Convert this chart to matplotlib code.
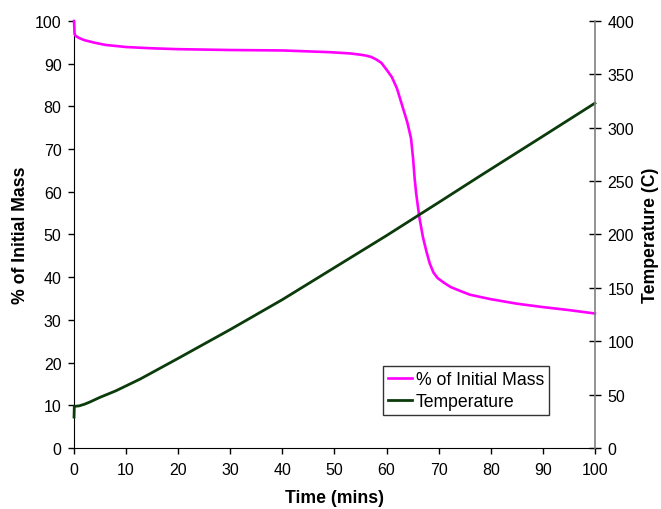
import matplotlib
matplotlib.use("Agg")
import matplotlib.pyplot as plt

plt.rcParams['font.family'] = ['Liberation Sans', 'DejaVu Sans']

# Mass-loss curve (% of initial mass vs time in minutes)
mass_time = [0, 0.1, 0.3, 1, 2, 4, 6, 10, 15, 20, 30, 40, 49, 53, 55, 56,
             57, 58, 59, 60, 61, 62, 63, 64, 64.7, 65.1, 65.4, 65.7, 66.3,
             67, 67.7, 68.3, 69, 69.8, 70.9, 72.3, 74.1, 76, 79.8, 85, 90,
             95, 100]
mass_pct = [100, 97.0, 96.5, 96.0, 95.5, 94.9, 94.4, 93.9, 93.6, 93.4, 93.2,
            93.1, 92.7, 92.4, 92.1, 91.9, 91.6, 91.0, 90.2, 88.6, 86.9, 84.2,
            80.2, 76.2, 72.5, 67.7, 63.0, 59.5, 54.0, 49.3, 45.8, 43.2, 41.1,
            39.8, 38.8, 37.7, 36.8, 35.9, 34.9, 33.8, 33.0, 32.3, 31.5]

# Furnace temperature (C vs time in minutes)
temp_time = [0, 0.05, 1, 2, 3, 5, 8, 12.7, 20, 30, 40, 49, 60, 70, 78, 90,
             100]
temp_c = [29, 39, 39.5, 41, 43, 47.5, 53.5, 64.6, 84, 111, 139, 166, 199,
          230, 255, 292, 323]

x_ticks = list(range(0, 101, 10))
mass_ticks = list(range(0, 101, 10))
temp_ticks = list(range(0, 401, 50))

fig = plt.figure(figsize=(6.61, 5.10), dpi=100)
ax = fig.add_axes([0.112, 0.1196, 0.788, 0.8373])
ax2 = ax.twinx()

l1, = ax.plot(mass_time, mass_pct, color='#FF00FF', lw=1.9,
              label='% of Initial Mass', clip_on=False, zorder=5)
l2, = ax2.plot(temp_time, temp_c, color='#0B3B0B', lw=2.0,
               label='Temperature', clip_on=False)

ax.set_xlim(0, 100)
ax.set_ylim(0, 100)
ax2.set_ylim(0, 400)
ax.set_xticks(x_ticks)
ax.set_yticks(mass_ticks)
ax2.set_yticks(temp_ticks)

fs = 11.5
lfs = 12.7
for a in (ax, ax2):
    a.spines['top'].set_visible(False)
ax.spines['right'].set_visible(False)
ax2.spines['left'].set_visible(False)
ax2.spines['bottom'].set_visible(False)
ax.spines['left'].set_color('black')
ax.spines['bottom'].set_color('black')
ax2.spines['right'].set_color('#808080')
ax2.spines['right'].set_linewidth(1.2)

ax.tick_params(axis='both', direction='out', length=4, width=1,
               labelsize=fs, colors='black', pad=6)
ax.tick_params(axis='y', pad=5)
ax2.tick_params(axis='y', direction='inout', length=8, width=1,
                labelsize=fs, colors='black', pad=5)

ax.set_xlabel('Time (mins)', fontsize=lfs, fontweight='bold', labelpad=9)
ax.set_ylabel('% of Initial Mass', fontsize=lfs, fontweight='bold', labelpad=4)
ax2.set_ylabel('Temperature (C)', fontsize=lfs, fontweight='bold', labelpad=6)

leg = ax2.legend(handles=[l1, l2], loc='upper left',
                 bbox_to_anchor=(0.593, 0.192), fontsize=lfs, frameon=True,
                 fancybox=False, edgecolor='black', handlelength=1.35,
                 handletextpad=0.2, borderpad=0.3, labelspacing=0.25,
                 borderaxespad=0)
leg.get_frame().set_linewidth(1.0)

fig.savefig('out.png', dpi=100)
